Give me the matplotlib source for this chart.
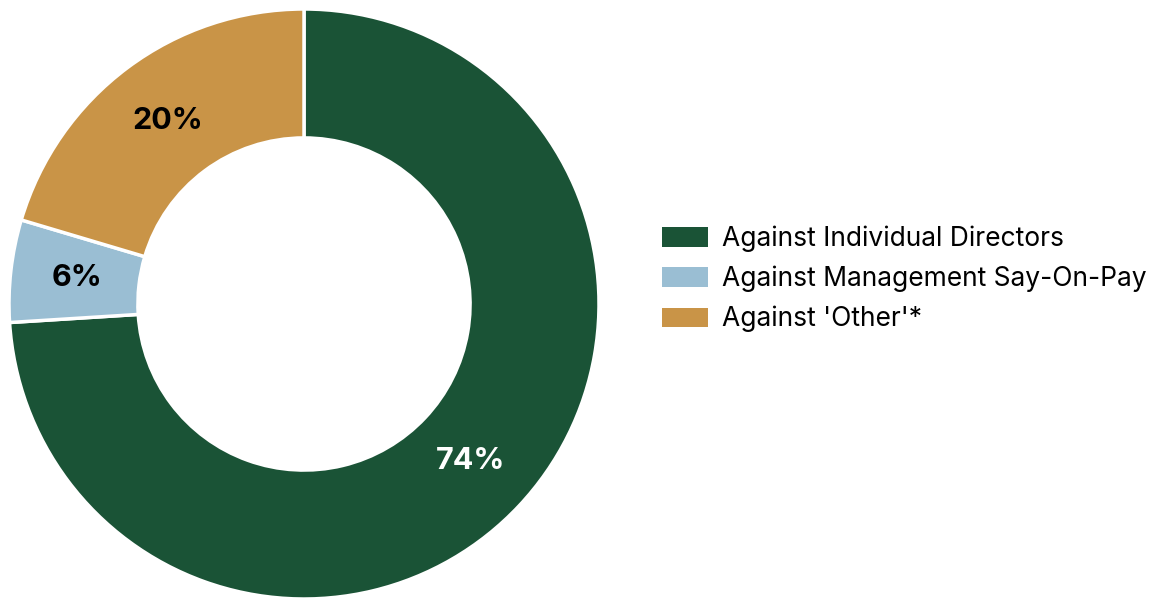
import matplotlib
matplotlib.use("Agg")
import matplotlib.pyplot as plt
from matplotlib.patches import Patch

plt.rcParams["font.family"] = ["Inter", "DejaVu Sans"]

LABELS = ["Against Individual Directors", "Against Management Say-On-Pay", "Against 'Other'*"]
SHARES = [74.0, 5.6, 20.4]
COLORS = ["#1a5336", "#9abed3", "#c99447"]
TEXT_COLORS = ["white", "black", "black"]

W, H = 1163, 598
fig = plt.figure(figsize=(W / 100, H / 100), dpi=100)

# pie axes placed in pixels: centre (304, 304), radius 295
cx, cy, r = 304, 304, 295
ax = fig.add_axes([(cx - r) / W, (H - cy - r) / H, 2 * r / W, 2 * r / H])
wedges, _, autotexts = ax.pie(
    SHARES, colors=COLORS, startangle=90, counterclock=False, radius=1,
    autopct=lambda p: f"{p:.0f}%", pctdistance=0.775,
    wedgeprops=dict(width=0.437, edgecolor="white", linewidth=2.5),
)
for t, c in zip(autotexts, TEXT_COLORS):
    t.set_color(c)
    t.set_fontsize(22)
    t.set_fontweight("bold")
ax.set_xlim(-1, 1)
ax.set_ylim(-1, 1)
ax.set_aspect("equal")
ax.axis("off")

handles = [Patch(facecolor=c, edgecolor="none") for c in COLORS]
fig.legend(handles, LABELS, loc="center left", bbox_to_anchor=(662 / W, 1 - 279 / H),
           frameon=False, fontsize=19, borderpad=0, borderaxespad=0,
           handlelength=1.74, handleheight=0.76, handletextpad=0.53,
           labelspacing=0.52)

fig.savefig("out.png", dpi=100)
